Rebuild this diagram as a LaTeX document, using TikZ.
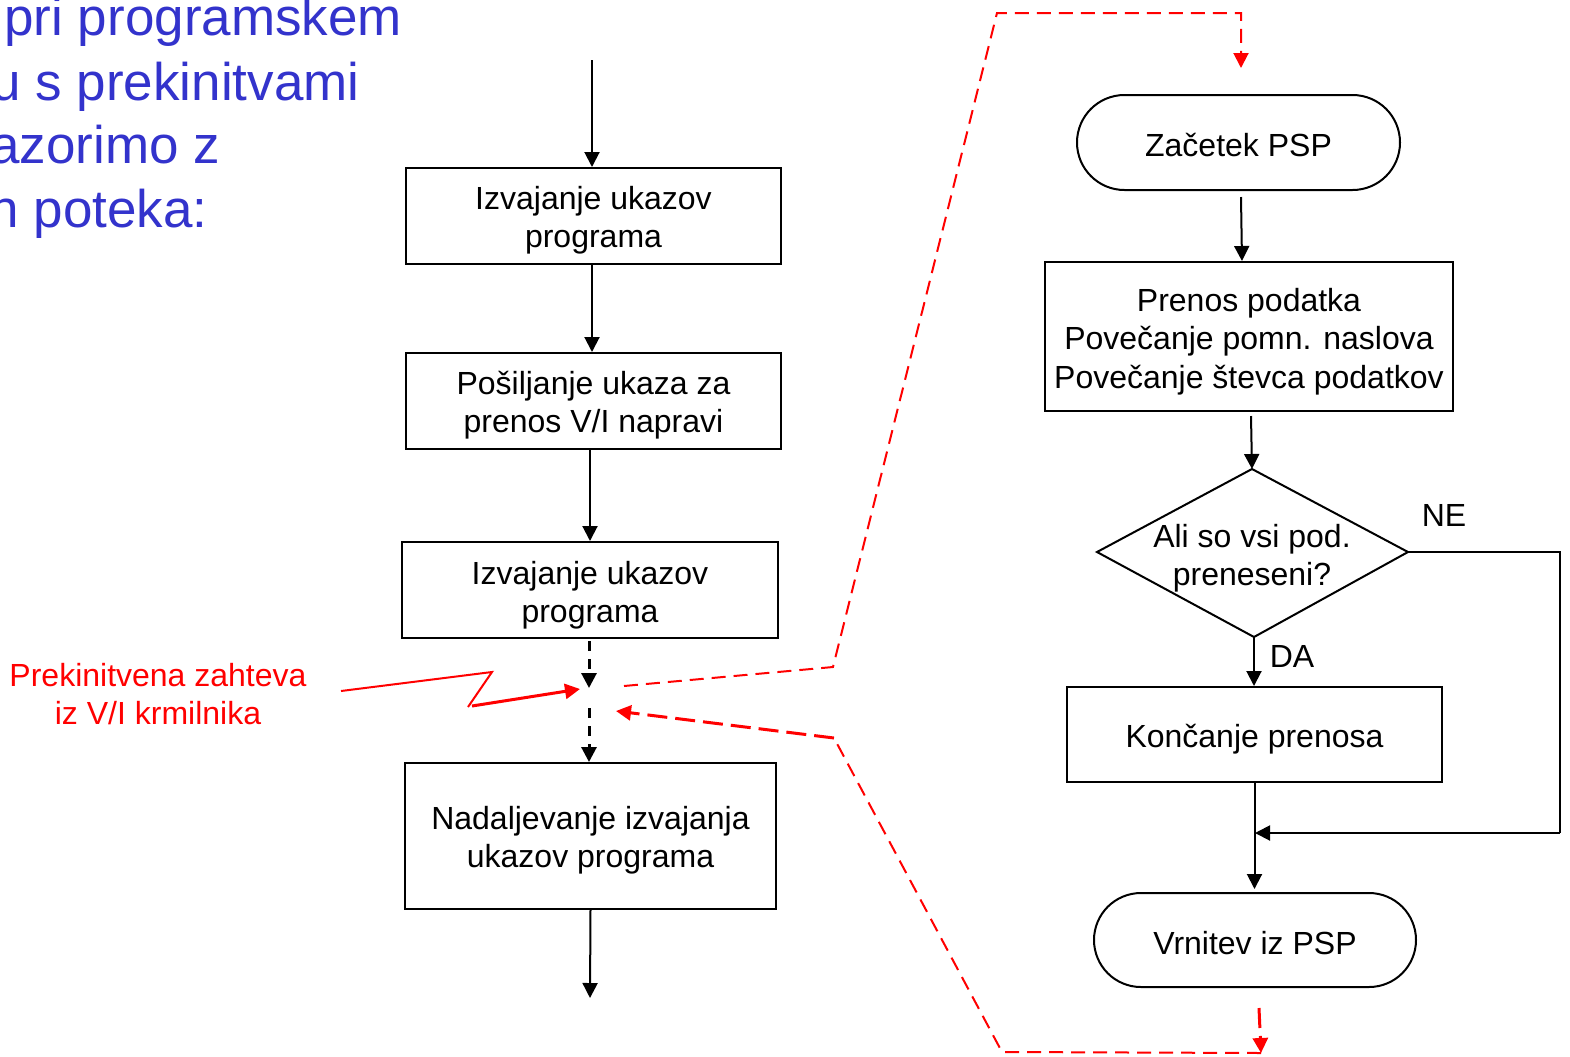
\documentclass[tikz,border=0pt]{standalone}
\usepackage{fontspec}
\setmainfont{Liberation Sans}
\usetikzlibrary{arrows.meta,shapes.misc}
\definecolor{tblue}{RGB}{51,51,204}
\definecolor{tred}{RGB}{255,0,0}
\begin{document}
\begin{tikzpicture}[x=0.5pt,y=-0.5pt,
  txt/.style={font=\fontsize{16}{19.2}\selectfont, align=center},
  box/.style={draw, line width=1pt, inner sep=0pt},
  term/.style={draw, line width=1pt, rounded rectangle, inner sep=0pt},
  tip/.style={-{Triangle[length=7.5pt,width=7.5pt]}},
  arr/.style={line width=1pt, tip},
  bdash/.style={line width=1.5pt, tip, dash pattern=on 5pt off 4pt},
  rgo/.style={draw=tred, line width=1pt, dash pattern=on 7pt off 4pt},
  rback/.style={draw=tred, line width=1.5pt, dash pattern=on 10pt off 4pt},
  btext/.style={font=\fontsize{26.5}{31}\selectfont, text=tblue, anchor=base west, inner sep=0pt}
]
\useasboundingbox (0,0) rectangle (1570,1056);
\clip (0,0) rectangle (1570,1056);

% title fragment
\node[btext] (t1) at (4,35) {pri programskem};
\node[btext] (t2) at (-9,100) {u s prekinitvami};
\node[btext] (t3) at (-10,163) {azorimo z};
\node[btext] (t4) at (-11,227) {n poteka:};

% left flow
\coordinate (t0) at (592,60);
\node[box, minimum width=187.5pt, minimum height=48pt] (b1) at (593.5,216) {};
\node[txt] (b1t) at ([yshift=-2pt]b1.center) {Izvajanje ukazov\\programa};
\node[box, minimum width=187.5pt, minimum height=48pt] (b2) at (593.5,401) {};
\node[txt] (b2t) at ([yshift=-2pt]b2.center) {Pošiljanje ukaza za\\prenos V/I napravi};
\node[box, minimum width=188pt, minimum height=48pt] (b3) at (590,590) {};
\node[txt] (b3t) at ([yshift=-2.5pt]b3.center) {Izvajanje ukazov\\programa};
\node[box, minimum width=185.5pt, minimum height=73pt] (b4) at (590.5,836) {};
\node[txt] (b4t) at ([yshift=-2pt]b4.center) {Nadaljevanje izvajanja\\ukazov programa};
\coordinate (c1) at (589,688);
\coordinate (c2) at (589,708);
\coordinate (bend) at (590,998);

\draw[arr] (t0) -- (t0 |- b1.north);
\draw[arr] (b1.south -| t0) -- (b2.north -| t0);
\draw[arr] (b3.north |- b2.south) -- (b3.north);
\draw[bdash] ([yshift=-1pt]b3.south -| c1) -- (c1);
\draw[bdash] (c2) -- (c2 |- b4.north);
\draw[arr] (b4.south) -- (bend);

% interrupt request
\node[txt, text=tred] (irq) at (158,694) {Prekinitvena zahteva\\iz V/I krmilnika};
\coordinate (l1) at (341,691);
\coordinate (l2) at (492,672);
\coordinate (l3) at (468,707);
\coordinate (l4) at (472,706);
\coordinate (l5) at (580,689);
\draw[tred, line width=1pt] (l1) -- (l2) -- (l3);
\draw[tred, line width=1.5pt, tip] (l4) -- (l5);

% right flow
\node[term, minimum width=161.5pt, minimum height=47.5pt] (s) at (1238.5,142.5) {};
\node[txt] (st) at ([yshift=-1pt]s.center) {Začetek PSP};
\node[box, minimum width=204pt, minimum height=74.5pt] (p) at (1249,336.5) {};
\node[txt] (pt) at ([yshift=-2.5pt]p.center) {Prenos podatka\\Povečanje pomn. naslova\\Povečanje števca podatkov};
\coordinate (dT) at (1252,469);
\coordinate (dR) at (1408,552);
\coordinate (dB) at (1254,637);
\coordinate (dL) at (1097,552);
\draw[line width=1pt] (dT) -- (dR) -- (dB) -- (dL) -- cycle;
\node[txt] (d) at (1252,558) {Ali so vsi pod.\\preneseni?};
\node[box, minimum width=187.5pt, minimum height=47.5pt] (k) at (1254.5,734.5) {};
\node[txt] (kt) at ([yshift=-2.5pt]k.center) {Končanje prenosa};
\node[term, minimum width=161pt, minimum height=47pt] (v) at (1255,940) {};
\node[txt] (vt) at ([yshift=-1.5pt]v.center) {Vrnitev iz PSP};
\node[txt] (ne) at (1444,515) {NE};
\node[txt] (da) at (1292,656) {DA};
\coordinate (nr) at (1560,552);
\coordinate (j) at (1255,833);

\draw[arr] ([xshift=1.25pt,yshift=-3pt]s.south) -- ([xshift=-3.5pt]p.north);
\draw[arr] ([xshift=1pt,yshift=-2pt]p.south) -- (dT);
\draw[arr] (dB) -- (dB |- k.north);
\draw[line width=1pt] (dR) -- (nr) -- (nr |- j);
\draw[arr] (nr |- j) -- (j);
\draw[arr] (k.south) -- ([yshift=1.5pt]k.south |- v.north);

% red dashed jumps
\coordinate (g1) at (624,686);
\coordinate (g2) at (833,667);
\coordinate (g3) at (997,13);
\coordinate (g4) at (1241,13);
\coordinate (g5) at (1241,68);
\draw[rgo, tip, tred] (g1) -- (g2) -- (g3) -- (g4) -- (g5);

\coordinate (r1) at (1259,1008);
\coordinate (r2) at (1261,1053);
\coordinate (r3) at (1002,1052);
\coordinate (r4) at (834,738);
\coordinate (r5) at (616,711);
\draw[rback, tip, tred] (r1) -- (r2);
\draw[rgo] (r2) -- (r3) -- (r4);
\draw[rback, tip, tred] (r4) -- (r5);
\end{tikzpicture}
\end{document}
